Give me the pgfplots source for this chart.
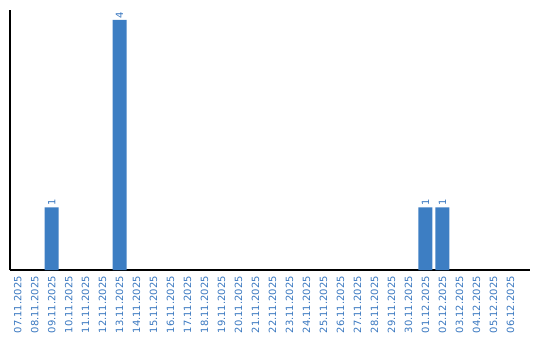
\documentclass[border=0pt]{standalone}
\usepackage{pgfplots}
\pgfplotsset{compat=1.18}
\usepackage{fontspec}
\setmainfont{DejaVu Sans}
\definecolor{barblue}{RGB}{61,126,195}
\definecolor{lblblue}{RGB}{58,120,192}
\begin{document}
\begin{tikzpicture}
\begin{axis}[
  at={(0,0)}, anchor=south west,
  scale only axis,
  width=520bp, height=260bp,
  xmin=-0.45, xmax=30.15,
  ymin=0, ymax=4.16,
  /pgf/number format/assume math mode=true,
  axis x line*=bottom, axis y line*=left,
  axis line style={black, line width=1.4bp, -},
  ytick=\empty,
  xtick={0,...,29},
  xticklabels={07.11.2025,08.11.2025,09.11.2025,10.11.2025,11.11.2025,12.11.2025,13.11.2025,14.11.2025,15.11.2025,16.11.2025,17.11.2025,18.11.2025,19.11.2025,20.11.2025,21.11.2025,22.11.2025,23.11.2025,24.11.2025,25.11.2025,26.11.2025,27.11.2025,28.11.2025,29.11.2025,30.11.2025,01.12.2025,02.12.2025,03.12.2025,04.12.2025,05.12.2025,06.12.2025},
  major tick length=0pt,
  xtick style={draw=none},
  xticklabel style={rotate=90, anchor=east, inner sep=0pt, text=lblblue, font=\fontsize{10}{12}\selectfont},
  xticklabel shift=6bp,
  ybar, bar width=14bp,
  nodes near coords={\pgfmathprintnumber[assume math mode=true]{\pgfplotspointmeta}},
  every node near coord/.append style={rotate=90, anchor=west, inner sep=1.5bp, text=lblblue, font=\fontsize{10}{12}\selectfont},
  clip=false,
]
\addplot[fill=barblue, draw=none] coordinates {(2,1) (6,4) (24,1) (25,1)};
\end{axis}
\pgfresetboundingbox
\useasboundingbox (-10bp,-70bp) rectangle (530bp,270bp);
\end{tikzpicture}
\end{document}
